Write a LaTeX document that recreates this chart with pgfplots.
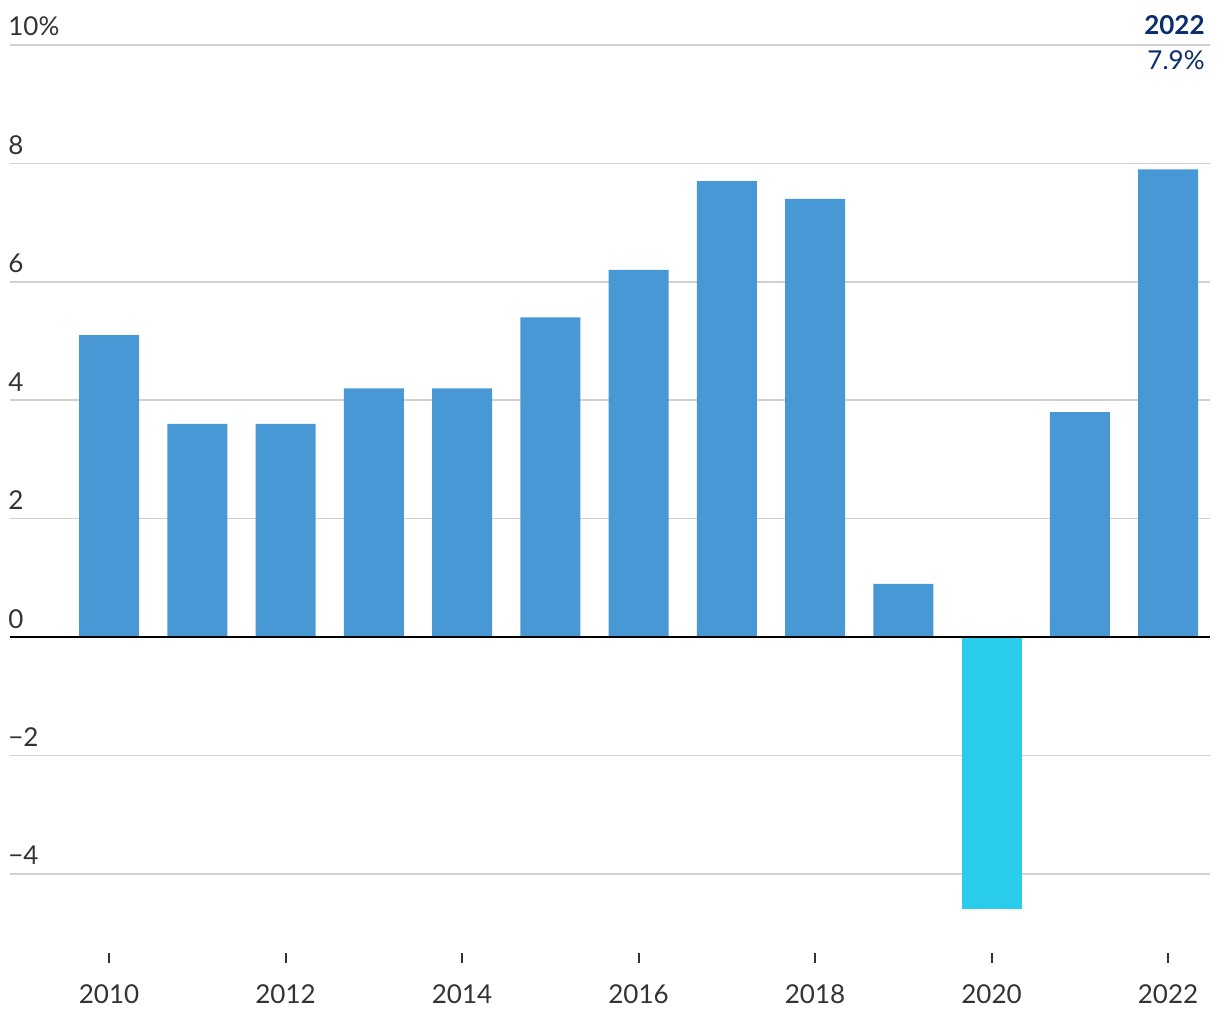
\documentclass[border=0pt]{standalone}
\usepackage{pgfplots}
\pgfplotsset{compat=1.18}
\usepackage{fontspec}
\setmainfont{Lato}
\definecolor{barblue}{HTML}{4898D5}
\definecolor{barcyan}{HTML}{29CDEB}
\definecolor{gridgray}{HTML}{D0D0D0}
\definecolor{labgray}{HTML}{333333}
\definecolor{navy}{HTML}{0B2D6B}
\begin{document}
\begin{tikzpicture}
\useasboundingbox (0,0) rectangle (610pt,510pt);
\begin{axis}[
  scale only axis,
  width=600pt, height=456.5pt,
  at={(5pt,31pt)}, anchor=south west,
  xmin=2008.878, xmax=2022.476,
  ymin=-5.42, ymax=10,
  axis line style={draw=none},
  ybar, bar width=30pt,
  xtick={2010,2012,...,2022},
  xtick pos=bottom,
  x tick label style={/pgf/number format/1000 sep=},
  /pgf/number format/assume math mode=true,
  tick align=center,
  major tick length=5pt,
  x tick style={labgray, line width=1pt},
  y tick style={draw=none},
  ytick={-4,-2,0,2,4,6,8,10},
  yticklabels={−4,−2,0,2,4,6,8,10\%},
  ymajorgrids,
  grid style={gridgray, line width=0.8pt},
  ticklabel style={font=\fontsize{13}{15}\selectfont, text=labgray},
  yticklabel style={anchor=base west, inner sep=0pt, xshift=1.5pt, yshift=4.5pt},
  xticklabel style={anchor=base, inner sep=0pt, yshift=-20.5pt},
  clip=false,
]
\addplot[fill=barblue, draw=none, bar shift=0pt] coordinates {
  (2010,5.1) (2011,3.6) (2012,3.6) (2013,4.2) (2014,4.2) (2015,5.4)
  (2016,6.2) (2017,7.7) (2018,7.4) (2019,0.9) (2021,3.8) (2022,7.9)};
\addplot[fill=barcyan, draw=none, bar shift=0pt] coordinates {(2020,-4.6)};
\draw[black, line width=1pt] (axis cs:2008.878,0) -- (axis cs:2022.476,0);
\end{axis}
\node[anchor=base east, inner sep=0pt, text=navy, font=\fontsize{13}{15}\selectfont\bfseries] at (602.5pt,492.5pt) {2022};
\node[anchor=base east, inner sep=0pt, text=navy, font=\fontsize{13}{15}\selectfont] at (602.5pt,475pt) {7.9\%};
\end{tikzpicture}
\end{document}
